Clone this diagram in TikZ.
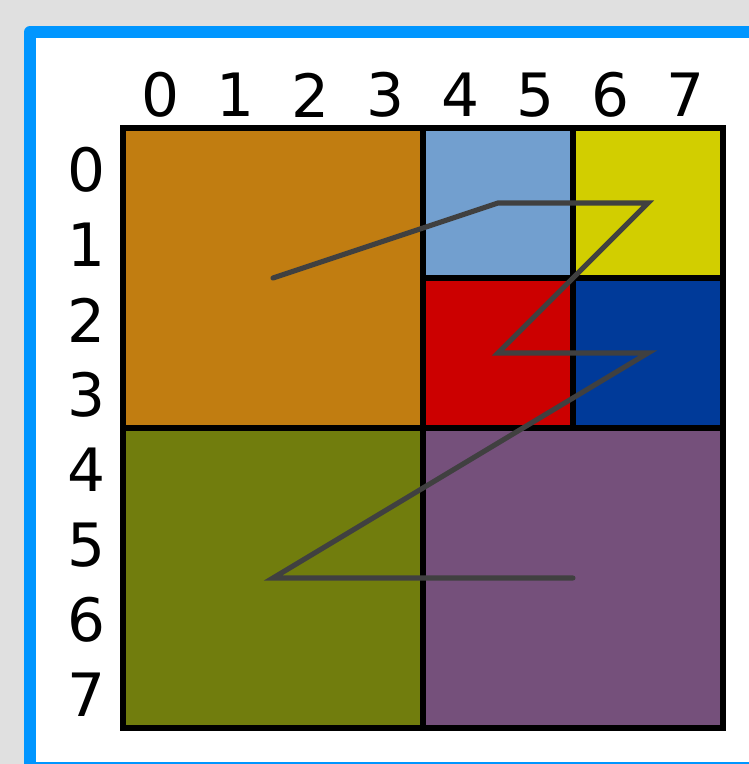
\documentclass[tikz,border=0pt]{standalone}
\usepackage{fontspec}
\setmainfont{DejaVu Sans}
\definecolor{backdrop}{HTML}{E0E0E0}
\definecolor{frame}{HTML}{0096FF}
\definecolor{chocolate}{HTML}{C17D11}
\definecolor{sky}{HTML}{729FCF}
\definecolor{butter}{HTML}{D2CE00}
\definecolor{scarlet}{HTML}{CC0000}
\definecolor{navy}{HTML}{003A99}
\definecolor{olive}{HTML}{717D0D}
\definecolor{plum}{HTML}{75507B}
\definecolor{trace}{HTML}{404040}

\begin{document}
\begin{tikzpicture}[
  x=1.5cm, y=-1.5cm,
  font=\fontsize{34}{40}\selectfont,
  block/.style={draw=black, line width=3.4pt, inner sep=0pt},
  quadrant/.style={block, minimum size=6cm},
  subquadrant/.style={block, minimum size=3cm},
  index/.style={inner sep=0pt},
  zorder/.style={draw=trace, line width=2.9pt, line cap=round}
]
% Page and frame, cut off at the right and bottom like the sketch.
\useasboundingbox (-1.64,-1.707) rectangle (8.347,8.48);
\clip (-1.64,-1.707) rectangle (8.347,8.48);
\fill[backdrop] (-1.64,-1.707) rectangle (8.347,8.48);
\draw[frame, fill=white, line width=.24cm, line join=round]
  (-1.24,-1.28) rectangle (8.8,8.53);

\foreach \i in {0,...,7} {
  \node[index] (col\i) at (\i+.5,-.44) {\i};
  \node[index] (row\i) at (-.49,\i+.56) {\i};
}

\node[quadrant, fill=chocolate] (nw) at (2,2) {};
\node[quadrant, fill=olive] (sw) at (2,6) {};
\node[quadrant, fill=plum] (se) at (6,6) {};
\node[subquadrant, fill=sky] (nenw) at (5,1) {};
\node[subquadrant, fill=butter] (nene) at (7,1) {};
\node[subquadrant, fill=scarlet] (nesw) at (5,3) {};
\node[subquadrant, fill=navy] (nese) at (7,3) {};

\draw[zorder] (nw.center) -- (nenw.center) -- (nene.center)
  -- (nesw.center) -- (nese.center) -- (sw.center) -- (se.center);
\end{tikzpicture}
\end{document}
